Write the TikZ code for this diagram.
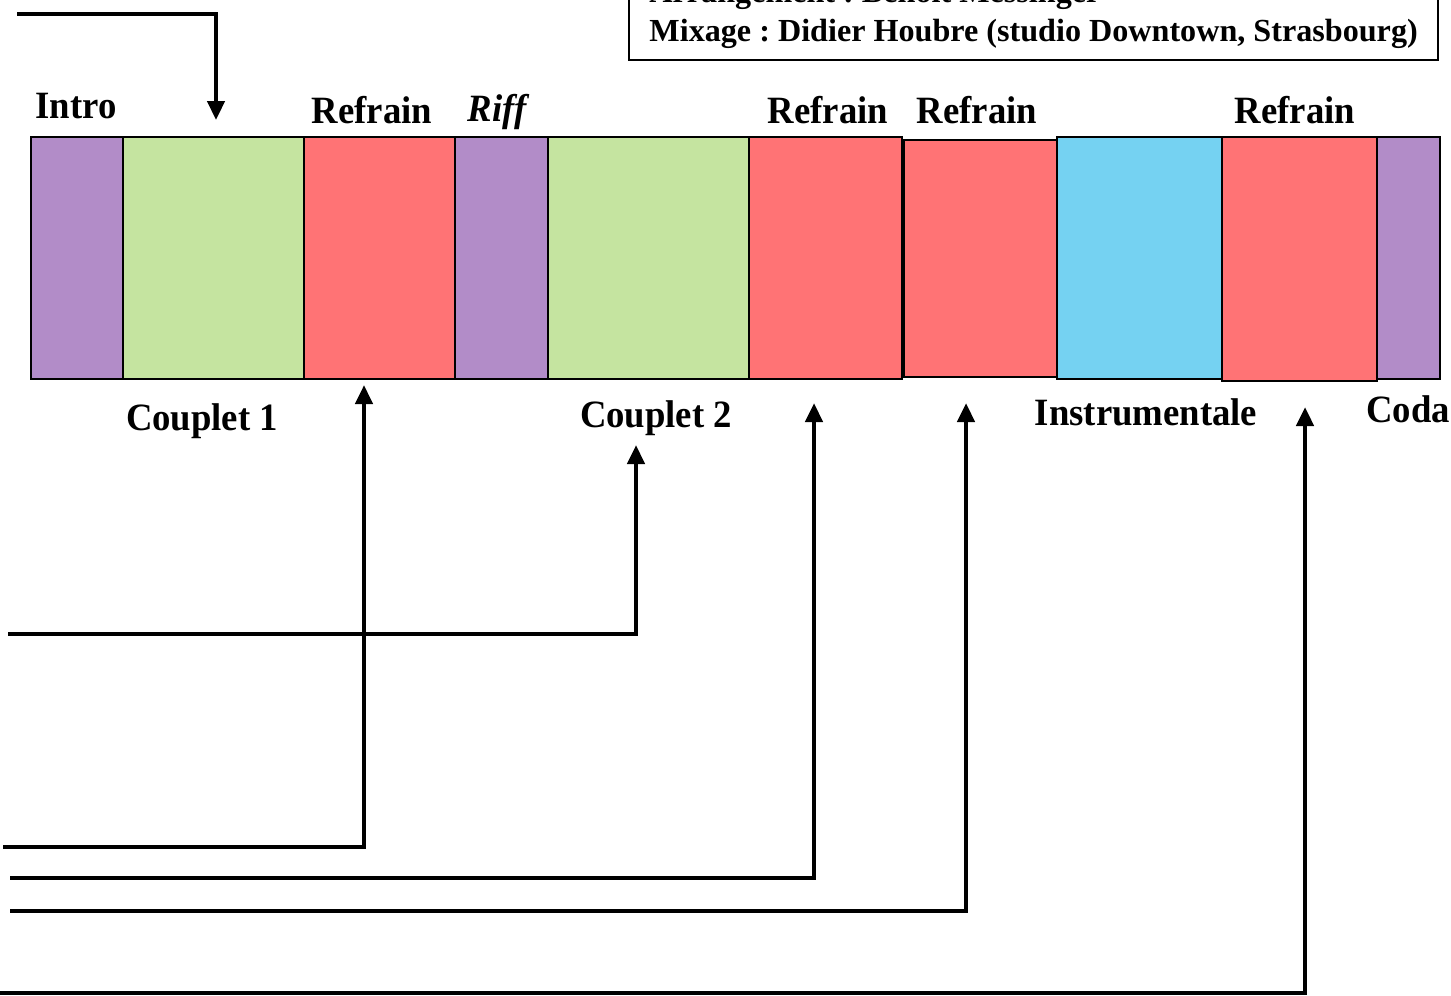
\documentclass[tikz,border=0pt]{standalone}
\usepackage{fontspec}
\setmainfont{Liberation Serif}
\usetikzlibrary{arrows.meta}
\frenchspacing

\definecolor{introviolet}{RGB}{178,140,200}
\definecolor{coupletvert}{RGB}{197,228,160}
\definecolor{refrainrouge}{RGB}{255,115,117}
\definecolor{instrubleu}{RGB}{117,210,242}

\tikzset{
    section/.style = {draw, line width = 1.4pt, minimum height = 4.84cm, inner sep = 0pt},
    partname/.style = {font = \fontsize{22}{26}\selectfont\bfseries, xscale = 0.95, anchor = base, inner sep = 0pt},
    feed/.style = {line width = 2.6pt, -{Triangle[width = 0.34cm, length = 0.38cm]}},
    credits/.style = {draw, line width = 1.4pt, align = left, anchor = south west,
        font = \fontsize{18.3}{22.2}\selectfont\bfseries, text depth = 0pt,
        minimum width = 16.18cm, inner xsep = 0.3cm, inner ysep = 0.36cm}
}

\begin{document}
\begin{tikzpicture}[x = 0.02cm, y = -0.02cm]
        \useasboundingbox (0, 0) rectangle (1451, 995);

        % the bar of sections
        \node[section, fill = introviolet, minimum width = 1.84cm] (intro) at (77, 258) {};
        \node[section, fill = coupletvert, minimum width = 3.62cm] (couplet1) at (213.5, 258) {};
        \node[section, fill = refrainrouge, minimum width = 3.02cm] (refrain1) at (379.5, 258) {};
        \node[section, fill = introviolet, minimum width = 1.86cm] (riff) at (501.5, 258) {};
        \node[section, fill = coupletvert, minimum width = 4.02cm] (couplet2) at (648.5, 258) {};
        \node[section, fill = refrainrouge, minimum width = 3.06cm] (refrain2) at (825.5, 258) {};
        \node[section, fill = refrainrouge, minimum width = 3.06cm, minimum height = 4.74cm] (refrain3) at (980.5, 258.5) {};
        \node[section, fill = instrubleu, minimum width = 3.30cm] (instru) at (1139.5, 258) {};
        \node[section, fill = refrainrouge, minimum width = 3.10cm, minimum height = 4.88cm] (refrain4) at (1299.5, 259) {};
        \node[section, fill = introviolet, minimum width = 1.26cm] (coda) at (1408.5, 258) {};

        % names above and below
        \node[partname] (lintro) at (76, 118) {Intro};
        \node[partname] (lrefrain1) at (372, 123) {Refrain};
        \node[partname, font = \fontsize{22}{26}\selectfont\bfseries\itshape] (lriff) at (497, 121) {Riff};
        \node[partname] (lrefrain2) at (828, 123) {Refrain};
        \node[partname] (lrefrain3) at (977, 123) {Refrain};
        \node[partname] (lrefrain4) at (1295, 123) {Refrain};
        \node[partname] (lcouplet1) at (202, 430) {Couplet 1};
        \node[partname] (lcouplet2) at (656, 427) {Couplet 2};
        \node[partname] (linstru) at (1146, 425) {Instrumentale};
        \node[partname] (lcoda) at (1408, 422) {Coda};

        % credits
        \node[credits] (credits) at (628, 61)
            {Arrangement : Benoît Messinger\\Mixage : Didier Houbre (studio Downtown, Strasbourg)};

        % feeds
        \coordinate (from1) at (17, 14);
        \coordinate (to1) at (216, 120);
        \coordinate (from2) at (3, 847);
        \coordinate (to2) at (364, 385);
        \coordinate (from3) at (8, 634);
        \coordinate (to3) at (636, 445);
        \coordinate (from4) at (10, 878);
        \coordinate (to4) at (814, 403);
        \coordinate (from5) at (10, 911);
        \coordinate (to5) at (966, 403);
        \coordinate (from6) at (0, 993);
        \coordinate (to6) at (1305, 407);

        \draw[feed] (from1) -| (to1);
        \draw[feed] (from2) -| (to2);
        \draw[feed] (from3) -| (to3);
        \draw[feed] (from4) -| (to4);
        \draw[feed] (from5) -| (to5);
        \draw[feed] (from6) -| (to6);
    \end{tikzpicture}
\end{document}
